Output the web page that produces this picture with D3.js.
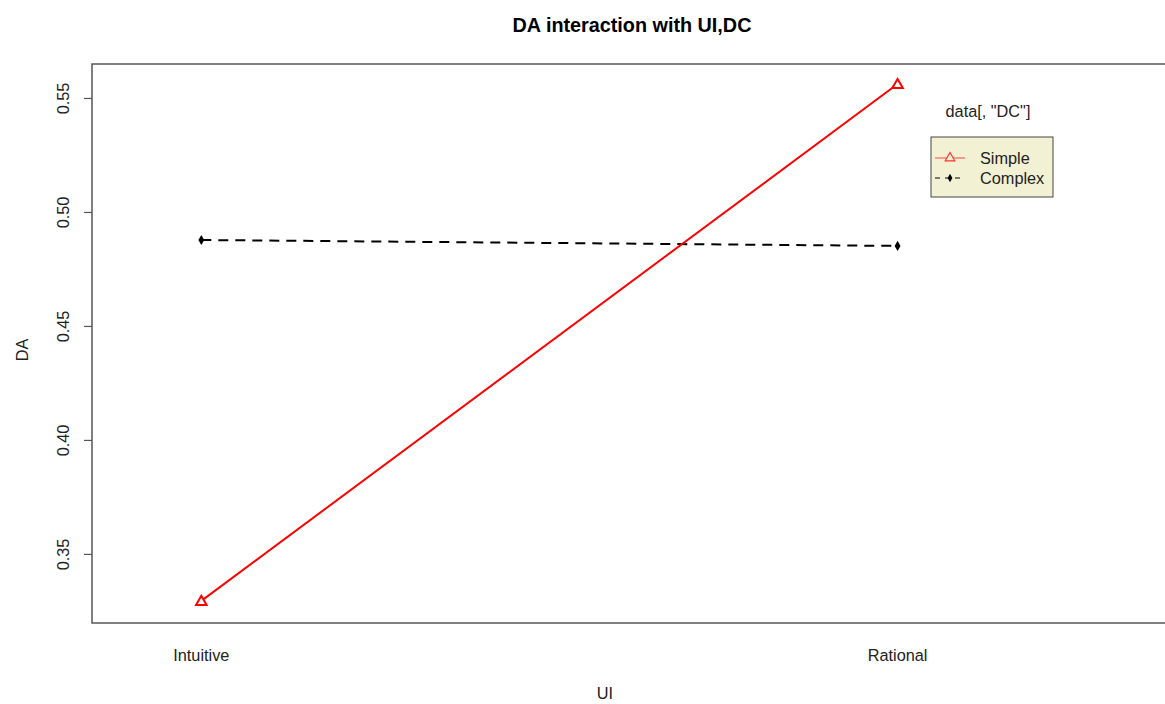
<!DOCTYPE html>
<html><head><meta charset="utf-8">
<script src="https://cdn.jsdelivr.net/npm/d3@7"></script>
<style>body{margin:0;background:#fff}svg{display:block}text{font-family:"Liberation Sans",Arial,sans-serif}</style>
</head><body>
<svg id="c" width="1165" height="704"></svg>
<script>
const categories = ["Intuitive", "Rational"];
const seriesNames = ["Simple", "Complex"];
const simpleValues = [0.3294, 0.5561];
const complexValues = [0.4877, 0.4851];
const yTicks = [0.35, 0.40, 0.45, 0.50, 0.55];
const title = "DA interaction with UI,DC";
const xTitle = "UI";
const yTitle = "DA";
const legendTitle = 'data[, "DC"]';

const svg = d3.select("#c");
const plot = {left: 92, top: 64, right: 1190, bottom: 623};
const x = d3.scaleLinear().domain([0.843, 2.42]).range([plot.left, plot.right]);
const y = d3.scaleLinear().domain([0.3197, 0.5649]).range([plot.bottom, plot.top]);
const axisCol = "#555";
const fs = 16.3;

svg.append("text").attr("x", 632).attr("y", 32).attr("text-anchor", "middle")
  .attr("font-size", 19.8).attr("font-weight", "bold").attr("fill", "#000").text(title);

svg.append("rect").attr("x", plot.left).attr("y", plot.top)
  .attr("width", plot.right - plot.left).attr("height", plot.bottom - plot.top)
  .attr("fill", "none").attr("stroke", axisCol).attr("stroke-width", 1.5);

const yAxis = d3.axisLeft(y).tickValues(yTicks).tickFormat(d3.format(".2f")).tickSize(8).tickPadding(0);
const ga = svg.append("g").attr("transform", `translate(${plot.left},0)`).call(yAxis);
ga.select(".domain").remove();
ga.selectAll(".tick line").attr("stroke", axisCol).attr("stroke-width", 1.2);
ga.selectAll(".tick text").attr("transform", "translate(-29,0) rotate(-90)")
  .attr("x", 0).attr("dy", "0.35em").attr("text-anchor", "middle")
  .attr("font-size", fs).attr("fill", "#222");

categories.forEach((c, i) => {
  svg.append("text").attr("x", x(i + 1)).attr("y", 661).attr("text-anchor", "middle")
    .attr("font-size", fs).attr("fill", "#222").text(c);
});
svg.append("text").attr("x", 605).attr("y", 699).attr("text-anchor", "middle")
  .attr("font-size", fs).attr("fill", "#222").text(xTitle);
svg.append("text").attr("transform", "translate(28,350) rotate(-90)").attr("text-anchor", "middle")
  .attr("font-size", fs).attr("fill", "#222").text(yTitle);

const line = d3.line().x((d, i) => x(i + 1)).y(d => y(d));
const tri = d3.symbol().type(d3.symbolTriangle).size(48);
const dia = d3.symbol().type(d3.symbolDiamond).size(30);

svg.append("path").datum(complexValues).attr("d", line).attr("fill", "none")
  .attr("stroke", "#000").attr("stroke-width", 2).attr("stroke-dasharray", "10,7");
complexValues.forEach((v, i) => {
  svg.append("path").attr("d", dia).attr("transform", `translate(${x(i + 1)},${y(v)})`).attr("fill", "#000");
});
svg.append("path").datum(simpleValues).attr("d", line).attr("fill", "none")
  .attr("stroke", "#ff0000").attr("stroke-width", 2);
simpleValues.forEach((v, i) => {
  svg.append("path").attr("d", tri).attr("transform", `translate(${x(i + 1)},${y(v) + 1})`)
    .attr("fill", "#fff").attr("stroke", "#ff0000").attr("stroke-width", 2);
});

svg.append("text").attr("x", 988).attr("y", 117).attr("text-anchor", "middle")
  .attr("font-size", fs).attr("fill", "#222").text(legendTitle);
svg.append("rect").attr("x", 931).attr("y", 137).attr("width", 122).attr("height", 60)
  .attr("fill", "#f3f1d3").attr("stroke", "#444").attr("stroke-width", 1);
const lg = [
  {name: seriesNames[0], color: "#ff4444", dash: null, sym: "tri", yy: 158},
  {name: seriesNames[1], color: "#000", dash: "5,5", sym: "dia", yy: 178}
];
lg.forEach(e => {
  svg.append("line").attr("x1", 935).attr("x2", 965).attr("y1", e.yy).attr("y2", e.yy)
    .attr("stroke", e.color).attr("stroke-width", 1).attr("stroke-dasharray", e.dash);
  if (e.sym === "tri") {
    svg.append("path").attr("d", d3.symbol().type(d3.symbolTriangle).size(40)).attr("transform", `translate(950,${e.yy})`)
      .attr("fill", "#f3f1d3").attr("stroke", "#ff3333").attr("stroke-width", 1.2);
  } else {
    svg.append("path").attr("d", d3.symbol().type(d3.symbolDiamond).size(20)).attr("transform", `translate(950,${e.yy})`).attr("fill", "#000");
  }
  svg.append("text").attr("x", 980).attr("y", e.yy + 5.5).attr("font-size", fs).attr("fill", "#222").text(e.name);
});
</script>
</body></html>
